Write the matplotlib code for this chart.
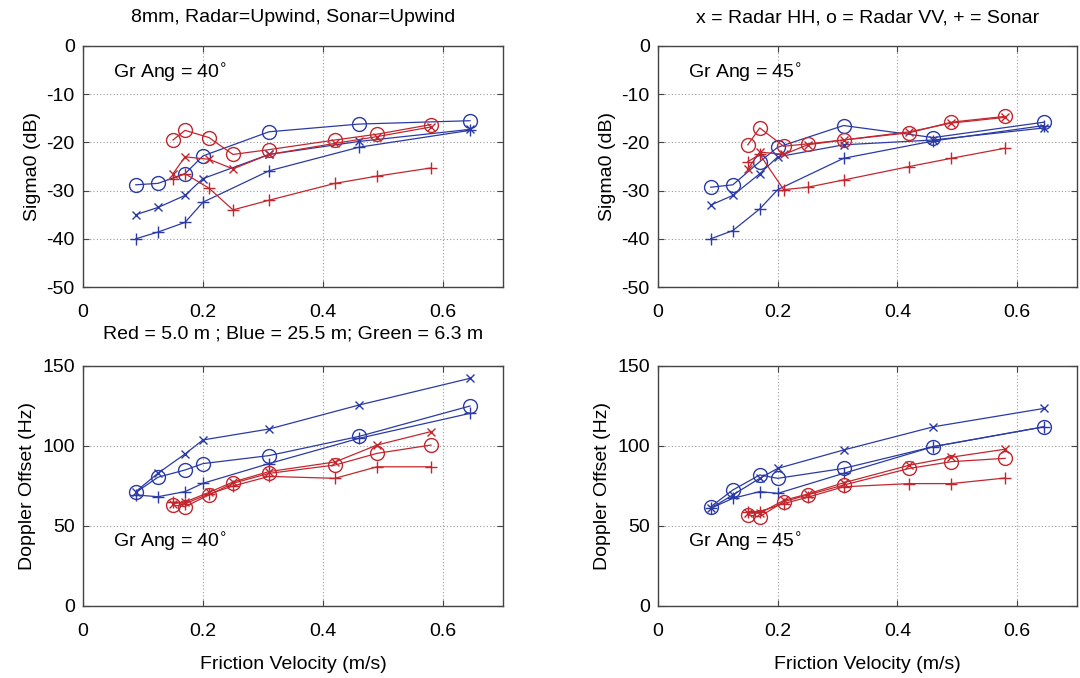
import matplotlib
matplotlib.use("Agg")
import matplotlib.pyplot as plt

plt.rcParams['font.family'] = ['Liberation Sans', 'DejaVu Sans']
plt.rcParams['axes.unicode_minus'] = False

# Friction velocity values (m/s)
u_blue = [0.088, 0.125, 0.17, 0.20, 0.31, 0.46, 0.645]
u_red = [0.15, 0.17, 0.21, 0.25, 0.31, 0.42, 0.49, 0.58]

# Sigma0 (dB), grazing angle 40 deg
s40_blue_hh = [-35.0, -33.5, -31.0, -27.5, -22.5, -19.8, -17.3]
s40_blue_vv = [-28.8, -28.5, -26.5, -22.8, -17.8, -16.2, -15.5]
s40_blue_sonar = [-40.0, -38.6, -36.6, -32.4, -25.9, -21.0, -17.5]
s40_red_hh = [-26.5, -23.0, -23.5, -25.5, -22.5, -20.2, -18.8, -16.8]
s40_red_vv = [-19.5, -17.5, -19.0, -22.5, -21.5, -19.5, -18.3, -16.3]
s40_red_sonar = [-27.5, -26.5, -29.5, -34.0, -32.0, -28.5, -27.0, -25.3]

# Sigma0 (dB), grazing angle 45 deg
s45_blue_hh = [-33.0, -31.0, -26.5, -23.0, -20.5, -19.5, -17.0]
s45_blue_vv = [-29.3, -28.8, -24.0, -21.0, -16.5, -19.0, -15.8]
s45_blue_sonar = [-40.0, -38.3, -33.8, -29.8, -23.3, -19.7, -16.5]
s45_red_hh = [-25.5, -22.0, -22.5, -20.5, -19.5, -17.8, -16.0, -14.8]
s45_red_vv = [-20.5, -17.0, -20.8, -20.3, -19.5, -18.0, -15.8, -14.6]
s45_red_sonar = [-24.0, -22.5, -29.8, -29.3, -27.8, -25.0, -23.3, -21.2]

# Doppler offset (Hz), grazing angle 40 deg
d40_blue_hh = [71.5, 83.0, 95.0, 103.8, 110.6, 125.6, 142.3]
d40_blue_vv = [71.0, 80.5, 85.0, 89.0, 94.0, 106.0, 125.0]
d40_blue_sonar = [69.4, 68.3, 71.5, 76.7, 89.0, 104.8, 120.4]
d40_red_hh = [64.0, 65.0, 71.0, 77.5, 84.0, 90.0, 100.6, 109.0]
d40_red_vv = [63.1, 62.1, 69.4, 76.7, 82.9, 88.1, 95.4, 100.6]
d40_red_sonar = [65.0, 64.0, 70.0, 75.0, 81.0, 79.8, 87.0, 87.0]

# Doppler offset (Hz), grazing angle 45 deg
d45_blue_hh = [61.0, 69.4, 79.8, 86.0, 97.5, 112.0, 123.5]
d45_blue_vv = [62.0, 72.5, 81.9, 79.8, 86.0, 99.6, 112.0]
d45_blue_sonar = [61.0, 67.3, 71.5, 70.4, 82.9, 99.6, 112.0]
d45_red_hh = [58.0, 58.0, 66.0, 70.0, 77.0, 88.0, 93.0, 98.0]
d45_red_vv = [56.9, 55.8, 65.2, 69.4, 75.6, 86.0, 90.2, 92.3]
d45_red_sonar = [59.0, 59.0, 64.0, 68.0, 74.5, 76.5, 76.5, 80.0]

BLUE = '#2a3aa6'
RED = '#c4262e'
FS = 14

fig = plt.figure(figsize=(10.8, 6.78), dpi=100)
fig.patch.set_facecolor('white')

boxes = [
    [83/1080, 1-287/678, 420/1080, 241/678],
    [658/1080, 1-287/678, 419/1080, 241/678],
    [83/1080, 1-606/678, 420/1080, 240/678],
    [658/1080, 1-606/678, 419/1080, 240/678],
]

panels = [
    (s40_blue_hh, s40_blue_vv, s40_blue_sonar, s40_red_hh, s40_red_vv, s40_red_sonar),
    (s45_blue_hh, s45_blue_vv, s45_blue_sonar, s45_red_hh, s45_red_vv, s45_red_sonar),
    (d40_blue_hh, d40_blue_vv, d40_blue_sonar, d40_red_hh, d40_red_vv, d40_red_sonar),
    (d45_blue_hh, d45_blue_vv, d45_blue_sonar, d45_red_hh, d45_red_vv, d45_red_sonar),
]

angles = ['40', '45', '40', '45']

for i, (box, data) in enumerate(zip(boxes, panels)):
    ax = fig.add_axes(box)
    bhh, bvv, bso, rhh, rvv, rso = data
    lw = 0.9
    ax.plot(u_blue, bhh, '-x', color=BLUE, lw=lw, ms=6, mew=1.0)
    ax.plot(u_blue, bvv, '-o', color=BLUE, lw=lw, ms=10, mfc='none', mew=1.0)
    ax.plot(u_blue, bso, '-+', color=BLUE, lw=lw, ms=9, mew=1.0)
    ax.plot(u_red, rhh, '-x', color=RED, lw=lw, ms=6, mew=1.0)
    ax.plot(u_red, rvv, '-o', color=RED, lw=lw, ms=10, mfc='none', mew=1.0)
    ax.plot(u_red, rso, '-+', color=RED, lw=lw, ms=9, mew=1.0)

    ax.set_xlim(0, 0.7)
    ax.set_xticks([0, 0.2, 0.4, 0.6])
    ax.set_xticklabels(['0', '0.2', '0.4', '0.6'])
    label = 'Gr Ang = ' + angles[i] + r'$^{\circ}$'
    if i < 2:
        ax.set_ylim(-50, 0)
        ax.set_yticks([-50, -40, -30, -20, -10, 0])
        ax.set_ylabel('Sigma0 (dB)', fontsize=FS, labelpad=4)
        ax.text(0.05, -5.6, label, fontsize=FS, va='center', ha='left')
    else:
        ax.set_ylim(0, 150)
        ax.set_yticks([0, 50, 100, 150])
        ax.set_ylabel('Doppler Offset (Hz)', fontsize=FS, labelpad=4)
        ax.set_xlabel('Friction Velocity (m/s)', fontsize=FS, labelpad=12)
        ax.text(0.05, 40, label, fontsize=FS, va='center', ha='left')
    ax.grid(True, linestyle=(0, (1, 2)), color='#9a9a9a', lw=0.8)
    ax.tick_params(direction='in', top=True, right=True, length=4,
                   labelsize=FS, color='#444444')
    ax.tick_params(axis='x', pad=12)
    ax.tick_params(axis='y', pad=6)
    for sp in ax.spines.values():
        sp.set_color('#444444')
        sp.set_linewidth(1.0)
    if i == 0:
        ax.set_title('8mm, Radar=Upwind, Sonar=Upwind', fontsize=FS, pad=17)
    elif i == 1:
        ax.set_title('x = Radar HH, o = Radar VV, + = Sonar', fontsize=FS, pad=17)
    elif i == 2:
        ax.set_title('Red = 5.0 m ; Blue = 25.5 m; Green = 6.3 m', fontsize=FS, pad=20)

fig.savefig('out.png', dpi=100, facecolor='white')
